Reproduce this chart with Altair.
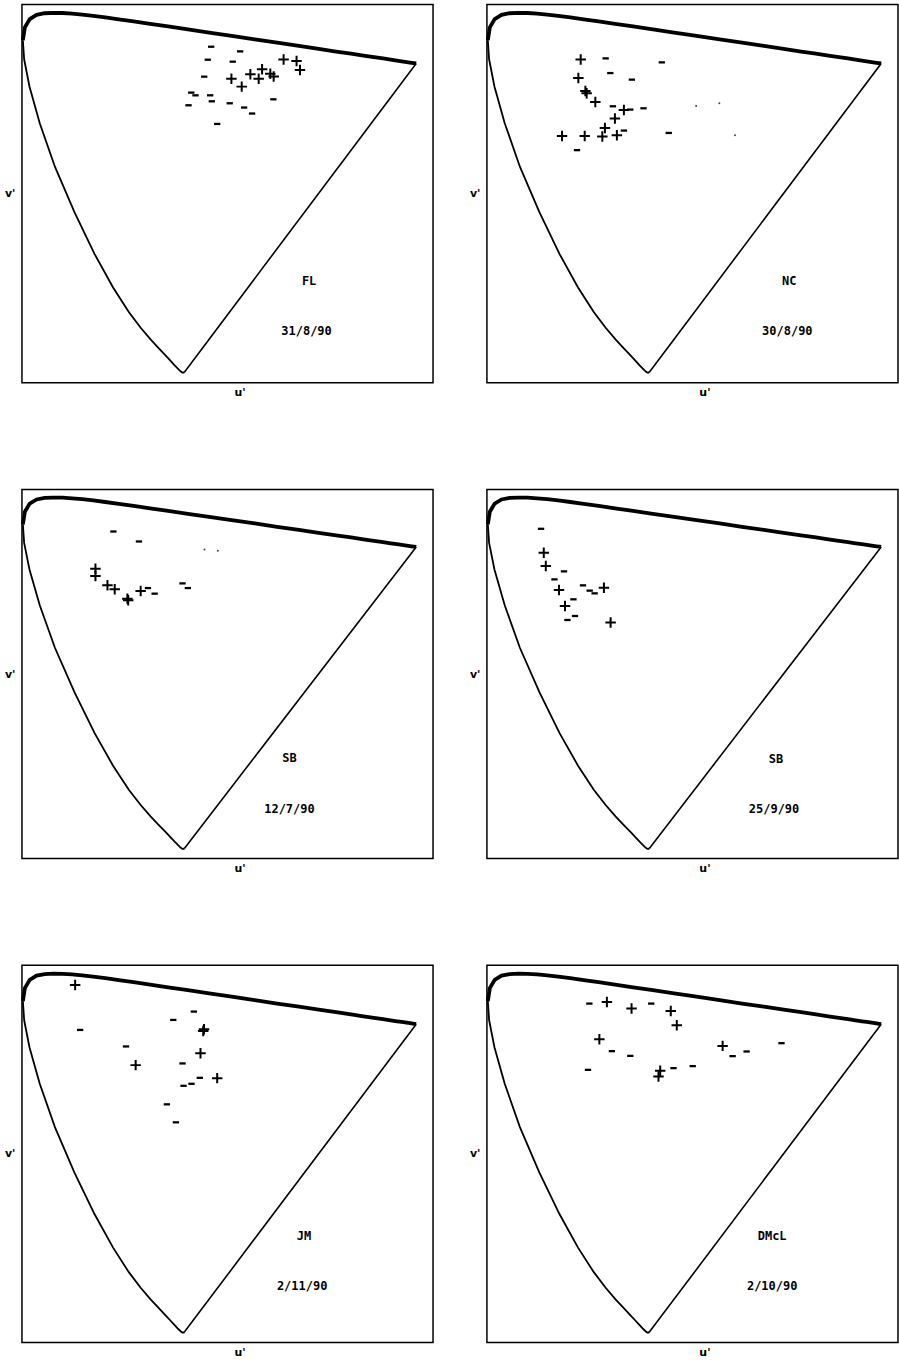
import altair as alt
import pandas as pd

# CIE 1931 2-degree spectral locus, chromaticity (x, y) by wavelength in nm
WAVELENGTHS = [380, 385, 390, 395, 400, 405, 410, 415, 420, 425, 430, 435, 440,
               445, 450, 455, 460, 465, 470, 475, 480, 485, 490, 495, 500, 505,
               510, 515, 520, 525, 530, 535, 540, 545, 550, 555, 560, 565, 570,
               575, 580, 585, 590, 595, 600, 605, 610, 615, 620, 625, 630, 635,
               640, 645, 650, 660, 670, 680, 700]
LOCUS_X = [0.1741, 0.1740, 0.1738, 0.1736, 0.1733, 0.1730, 0.1726, 0.1721, 0.1714,
           0.1703, 0.1689, 0.1669, 0.1644, 0.1611, 0.1566, 0.1510, 0.1440, 0.1355,
           0.1241, 0.1096, 0.0913, 0.0687, 0.0454, 0.0235, 0.0082, 0.0039, 0.0139,
           0.0389, 0.0743, 0.1142, 0.1547, 0.1929, 0.2296, 0.2658, 0.3016, 0.3373,
           0.3731, 0.4087, 0.4441, 0.4788, 0.5125, 0.5448, 0.5752, 0.6029, 0.6270,
           0.6482, 0.6658, 0.6801, 0.6915, 0.7006, 0.7079, 0.7140, 0.7190, 0.7230,
           0.7260, 0.7300, 0.7320, 0.7334, 0.7347]
LOCUS_Y = [0.0050, 0.0050, 0.0049, 0.0049, 0.0048, 0.0048, 0.0048, 0.0048, 0.0051,
           0.0058, 0.0069, 0.0086, 0.0109, 0.0138, 0.0177, 0.0227, 0.0297, 0.0399,
           0.0578, 0.0868, 0.1327, 0.2007, 0.2950, 0.4127, 0.5384, 0.6548, 0.7502,
           0.8120, 0.8338, 0.8262, 0.8059, 0.7816, 0.7543, 0.7243, 0.6923, 0.6589,
           0.6245, 0.5896, 0.5547, 0.5202, 0.4866, 0.4544, 0.4242, 0.3965, 0.3725,
           0.3514, 0.3340, 0.3197, 0.3083, 0.2993, 0.2920, 0.2859, 0.2809, 0.2770,
           0.2740, 0.2700, 0.2680, 0.2666, 0.2653]

# Observer settings (u', v'); "+" and "-" responses, plus faint unmarked points
FL_PLUS = [(0.4137, 0.5129), (0.4342, 0.5102), (0.4396, 0.4960), (0.3797, 0.4971),
           (0.3927, 0.4903), (0.3980, 0.4856), (0.3612, 0.4892), (0.3743, 0.4822),
           (0.3312, 0.4822), (0.3475, 0.4697)]
FL_MINUS = [(0.2992, 0.5330), (0.3450, 0.5256), (0.2938, 0.5124), (0.3333, 0.5093),
            (0.2882, 0.4855), (0.2677, 0.4602), (0.2744, 0.4559), (0.2976, 0.4559),
            (0.3002, 0.4464), (0.2634, 0.4401), (0.3285, 0.4433), (0.3513, 0.4365),
            (0.3639, 0.4270), (0.3975, 0.4496), (0.3087, 0.4105)]
FL_DOTS = []

NC_PLUS = [(0.1483, 0.5129), (0.1446, 0.4833), (0.1557, 0.4627), (0.1577, 0.4591),
           (0.1714, 0.4453), (0.2166, 0.4326), (0.2024, 0.4190), (0.1866, 0.4042),
           (0.1188, 0.3915), (0.1546, 0.3915), (0.1825, 0.3905), (0.2055, 0.3926)]
NC_MINUS = [(0.1877, 0.5145), (0.2765, 0.5082), (0.1951, 0.4912), (0.2292, 0.4808),
            (0.1992, 0.4385), (0.2267, 0.4333), (0.2476, 0.4353), (0.2166, 0.4000),
            (0.2875, 0.3962), (0.1424, 0.3689)]
NC_DOTS = [(0.3308, 0.4390), (0.3675, 0.4433), (0.3923, 0.3926)]

SB1_PLUS = [(0.1162, 0.4711), (0.1162, 0.4592), (0.1352, 0.4441), (0.1467, 0.4376),
            (0.1667, 0.4225), (0.1680, 0.4198), (0.1877, 0.4348)]
SB1_MINUS = [(0.1446, 0.5316), (0.1850, 0.5154), (0.1992, 0.4397), (0.2098, 0.4306),
             (0.2539, 0.4473), (0.2623, 0.4397)]
SB1_DOTS = [(0.2886, 0.5024), (0.3097, 0.5003)]

SB2_PLUS = [(0.0899, 0.4971), (0.0931, 0.4754), (0.1140, 0.4365), (0.1235, 0.4105),
            (0.1850, 0.4403), (0.1956, 0.3836)]
SB2_MINUS = [(0.0856, 0.5360), (0.1219, 0.4668), (0.1068, 0.4538), (0.1519, 0.4441),
             (0.1625, 0.4355), (0.1703, 0.4311), (0.1368, 0.4214), (0.1393, 0.3943),
             (0.1273, 0.3878)]
SB2_DOTS = []

JM_PLUS = [(0.0841, 0.5687), (0.2866, 0.4957), (0.2879, 0.4984), (0.2823, 0.4603),
           (0.1798, 0.4413), (0.3087, 0.4206)]
JM_MINUS = [(0.2718, 0.5265), (0.2393, 0.5132), (0.0920, 0.4973), (0.1645, 0.4710),
            (0.2539, 0.4440), (0.2812, 0.4211), (0.2681, 0.4116), (0.2555, 0.4084),
            (0.2292, 0.3789), (0.2434, 0.3503)]
JM_DOTS = []

DMCL_PLUS = [(0.1897, 0.5417), (0.2287, 0.5313), (0.2907, 0.5275), (0.3002, 0.5048),
             (0.1778, 0.4825), (0.3727, 0.4719), (0.2740, 0.4322), (0.2713, 0.4233)]
DMCL_MINUS = [(0.1620, 0.5392), (0.2598, 0.5392), (0.1976, 0.4635), (0.2267, 0.4560),
              (0.3885, 0.4556), (0.4106, 0.4630), (0.4658, 0.4762), (0.1598, 0.4338),
              (0.2950, 0.4365), (0.3254, 0.4397)]
DMCL_DOTS = []

OBSERVERS = ["FL", "NC", "SB", "SB", "JM", "DMcL"]
DATES = ["31/8/90", "30/8/90", "12/7/90", "25/9/90", "2/11/90", "2/10/90"]

PANEL_W = 412
ROW_H = [379, 370, 378]
FONT = "DejaVu Sans Mono"


def to_uv(x, y):
    d = -2 * x + 12 * y + 3
    return 4 * x / d, 9 * y / d


rows = []
for i, (wl, x, y) in enumerate(zip(WAVELENGTHS, LOCUS_X, LOCUS_Y)):
    u, v = to_uv(x, y)
    rows.append({"wl": wl, "u": u, "v": v, "i": i})
locus = pd.DataFrame(rows)
locus_short = locus[locus.wl <= 505]
locus_long = locus[locus.wl >= 505]
purple = locus[locus.wl.isin([380, 700])]

SX = alt.Scale(domain=[0, 0.65], nice=False, zero=False)
SY = alt.Scale(domain=[0, 0.6], nice=False, zero=False)
X_AX = alt.Axis(title="u'", labels=False, ticks=False, domain=False, grid=False,
                titlePadding=4, titleX=218, titleFont="DejaVu Sans",
                titleFontSize=11, titleFontWeight="bold", titleColor="black")
Y_AX = alt.Axis(title="v'", labels=False, ticks=False, domain=False, grid=False,
                titleAngle=0, titleAlign="right", titleBaseline="middle",
                titlePadding=7, titleFont="DejaVu Sans", titleFontSize=11,
                titleFontWeight="bold", titleColor="black")


def enc_xy():
    return dict(x=alt.X("u:Q", scale=SX, axis=X_AX),
                y=alt.Y("v:Q", scale=SY, axis=Y_AX))


PLUS_PATH = "M-1,0L1,0M0,-1L0,1"
MINUS_PATH = "M-1,0L1,0"

# label anchor positions (u', v') for observer name and date in each panel
LABEL_POS = [((0.454, 0.161), (0.450, 0.082)),
             ((0.478, 0.161), (0.475, 0.082)),
             ((0.423, 0.164), (0.423, 0.081)),
             ((0.457, 0.162), (0.454, 0.081)),
             ((0.446, 0.170), (0.443, 0.090)),
             ((0.451, 0.170), (0.451, 0.090))]


def pts(lst):
    return pd.DataFrame(lst, columns=["u", "v"])


def panel(k, plus, minus, dots, h):
    layers = [
        alt.Chart(locus_short).mark_line(color="black", strokeWidth=1.8)
        .encode(order="i:Q", **enc_xy()),
        alt.Chart(locus_long).mark_line(color="black", strokeWidth=3.8)
        .encode(order="i:Q", **enc_xy()),
        alt.Chart(purple).mark_line(color="black", strokeWidth=1.6)
        .encode(order="i:Q", **enc_xy()),
        alt.Chart(pts(plus)).mark_point(shape=PLUS_PATH, filled=False, color="black",
                                         strokeWidth=2, size=110, opacity=1)
        .encode(**enc_xy()),
        alt.Chart(pts(minus)).mark_point(shape=MINUS_PATH, filled=False, color="black",
                                          strokeWidth=2.3, size=40, opacity=1)
        .encode(**enc_xy()),
    ]
    if dots:
        layers.append(alt.Chart(pts(dots)).mark_circle(size=4, color="#444", opacity=1)
                      .encode(**enc_xy()))
    (nu, nv), (du, dv) = LABEL_POS[k]
    labels = pd.DataFrame({"u": [nu, du], "v": [nv, dv],
                           "t": [OBSERVERS[k], DATES[k]]})
    layers.append(alt.Chart(labels).mark_text(font=FONT, fontSize=12, fontWeight="bold",
                                              color="black", align="center",
                                              baseline="middle")
                  .encode(text="t:N", **enc_xy()))
    return alt.layer(*layers).properties(width=PANEL_W, height=h)


p = [
    panel(0, FL_PLUS, FL_MINUS, FL_DOTS, ROW_H[0]),
    panel(1, NC_PLUS, NC_MINUS, NC_DOTS, ROW_H[0]),
    panel(2, SB1_PLUS, SB1_MINUS, SB1_DOTS, ROW_H[1]),
    panel(3, SB2_PLUS, SB2_MINUS, SB2_DOTS, ROW_H[1]),
    panel(4, JM_PLUS, JM_MINUS, JM_DOTS, ROW_H[2]),
    panel(5, DMCL_PLUS, DMCL_MINUS, DMCL_DOTS, ROW_H[2]),
]

chart = alt.vconcat(
    alt.hconcat(p[0], p[1], spacing=34),
    alt.hconcat(p[2], p[3], spacing=34),
    alt.hconcat(p[4], p[5], spacing=34),
    spacing=90,
).properties(padding={"left": 3, "top": 2, "right": 0, "bottom": 0},
             background="white"
).configure_view(stroke="black", strokeWidth=1.5)

chart.save("out.html", embed_options={"renderer": "svg", "actions": False})
